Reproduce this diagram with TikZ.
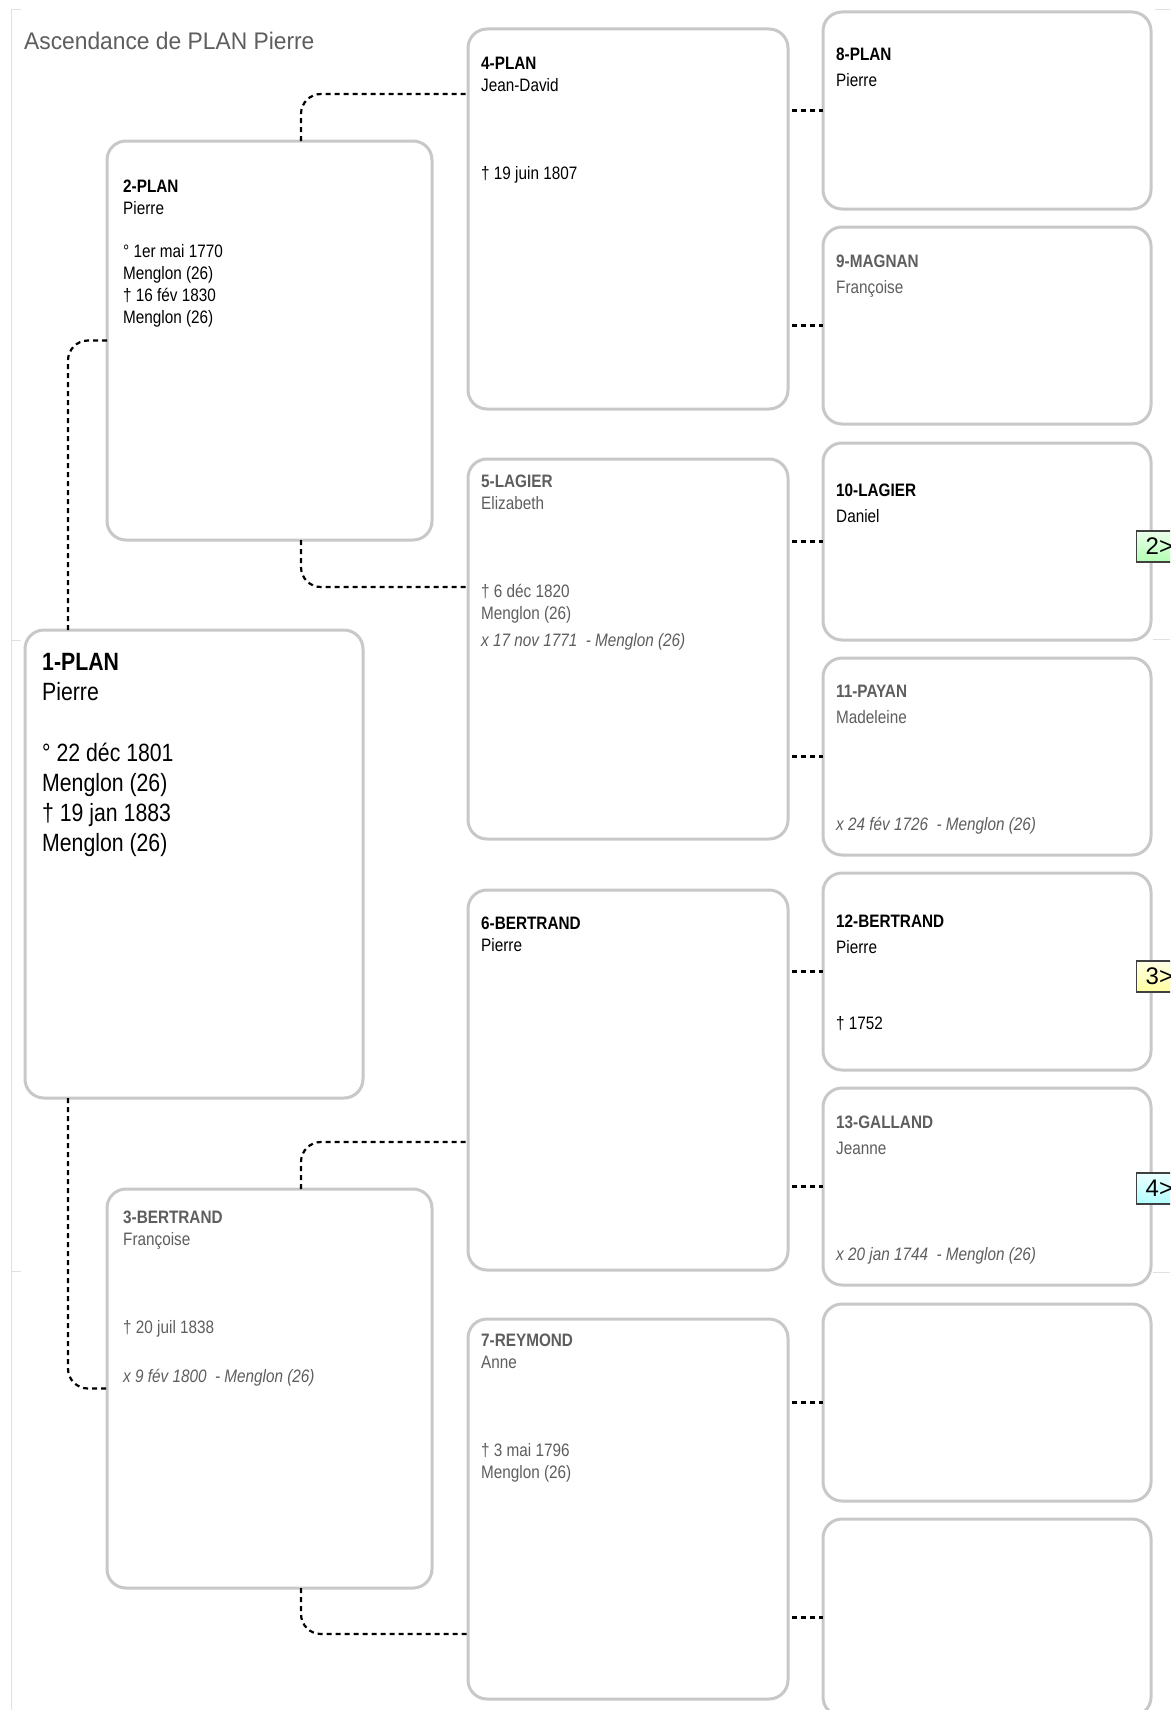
\documentclass[tikz,border=0pt]{standalone}
\usepackage{fontspec}
\setmainfont[FakeStretch=0.85]{Liberation Sans}
\newfontfamily\titrefont[FakeStretch=0.95]{Liberation Sans}
\newfontfamily\renvoifont{Liberation Sans}
\definecolor{cadre}{HTML}{C8C8C8}
\definecolor{gris}{HTML}{5E5E5E}
\definecolor{bordpage}{HTML}{E0E0E0}

\begin{document}
\begin{tikzpicture}[x=1pt,y=-1pt,
    fiche/.style={draw=cadre, line width=3pt, rounded corners=19pt, fill=white, anchor=north west, inner sep=0pt, outer sep=0pt},
    grande/.style={fiche, minimum width=338pt, minimum height=468pt},
    moyenne/.style={fiche, minimum width=325pt, minimum height=399pt},
    haute/.style={fiche, minimum width=320pt, minimum height=380pt},
    petite/.style={fiche, minimum width=328pt, minimum height=197pt},
    homme/.style={anchor=north west, inner sep=0pt, align=left, text=black, font=\fontsize{18}{22}\selectfont},
    femme/.style={homme, text=gris},
    serre/.style={font=\fontsize{18}{26}\selectfont},
    lien/.style={draw=black, line width=2.2pt, dash pattern=on 5pt off 4pt, rounded corners=20pt},
    court/.style={lien, dash phase=5pt},
    renvoi/.style={draw=black!75, line width=1.3pt, anchor=west, inner xsep=7pt, inner ysep=0pt, minimum height=31pt, font=\renvoifont\fontsize{24}{28}\selectfont}]
    \clip (0,0) rectangle (1170,1710);
    \fill[white] (0,0) rectangle (1170,1710);

    \draw[bordpage, line width=1pt] (21,10) -- (11,10) -- (11,1710);
    \draw[bordpage, line width=1pt] (11,640) -- (21,640);
    \draw[bordpage, line width=1pt] (11,1271) -- (21,1271);
    \draw[bordpage, line width=1pt] (1155,10) -- (1170,10);
    \draw[bordpage, line width=1pt] (1153,639) -- (1170,639);
    \draw[bordpage, line width=1pt] (1153,1272) -- (1170,1272);

    \node[anchor=base west, inner sep=0pt, text=gris, font=\titrefont\fontsize{24}{28}\selectfont] (titre) at (24,50) {Ascendance de PLAN Pierre};

    \node[grande] (b1) at (25,630) {};
    \node[moyenne] (b2) at (107,141) {};
    \node[moyenne] (b3) at (107,1189) {};
    \node[haute] (b4) at (468,29) {};
    \node[haute] (b5) at (468,459) {};
    \node[haute] (b6) at (468,890) {};
    \node[haute] (b7) at (468,1319) {};
    \node[petite] (b8) at (823,12) {};
    \node[petite] (b9) at (823,227) {};
    \node[petite] (b10) at (823,443) {};
    \node[petite] (b11) at (823,658) {};
    \node[petite] (b12) at (823,873) {};
    \node[petite] (b13) at (823,1088) {};
    \node[petite] (b14) at (823,1304) {};
    \node[petite] (b15) at (823,1519) {};

    \node[homme, font=\fontsize{25}{30}\selectfont] (t1) at ([xshift=17pt,yshift=-23pt]b1.north west)
        {\textbf{1-PLAN}\\Pierre\\[31pt]° 22 déc 1801\\Menglon (26)\\† 19 jan 1883\\Menglon (26)};
    \node[homme] (t2) at ([xshift=16pt,yshift=-39pt]b2.north west)
        {\textbf{2-PLAN}\\Pierre\\[21pt]° 1er mai 1770\\Menglon (26)\\† 16 fév 1830\\Menglon (26)};
    \node[femme] (t3) at ([xshift=16pt,yshift=-22pt]b3.north west)
        {\textbf{3-BERTRAND}\\Françoise\\[66pt]† 20 juil 1838\\[27pt]\textit{x 9 fév 1800 \ - Menglon (26)}};
    \node[homme] (t4) at ([xshift=13pt,yshift=-28pt]b4.north west)
        {\textbf{4-PLAN}\\Jean-David\\[66pt]† 19 juin 1807};
    \node[femme] (t5) at ([xshift=13pt,yshift=-16pt]b5.north west)
        {\textbf{5-LAGIER}\\Elizabeth\\[66pt]† 6 déc 1820\\Menglon (26)\\[5pt]\textit{x 17 nov 1771 \ - Menglon (26)}};
    \node[homme] (t6) at ([xshift=13pt,yshift=-27pt]b6.north west)
        {\textbf{6-BERTRAND}\\Pierre};
    \node[femme] (t7) at ([xshift=13pt,yshift=-15pt]b7.north west)
        {\textbf{7-REYMOND}\\Anne\\[66pt]† 3 mai 1796\\Menglon (26)};

    \node[homme, serre] (t8) at ([xshift=13pt,yshift=-36pt]b8.north west)
        {\textbf{8-PLAN}\\Pierre};
    \node[femme, serre] (t9) at ([xshift=13pt,yshift=-28pt]b9.north west)
        {\textbf{9-MAGNAN}\\Françoise};
    \node[homme, serre] (t10) at ([xshift=13pt,yshift=-41pt]b10.north west)
        {\textbf{10-LAGIER}\\Daniel};
    \node[femme, serre] (t11) at ([xshift=13pt,yshift=-27pt]b11.north west)
        {\textbf{11-PAYAN}\\Madeleine\\[81pt]\textit{x 24 fév 1726 \ - Menglon (26)}};
    \node[homme, serre] (t12) at ([xshift=13pt,yshift=-42pt]b12.north west)
        {\textbf{12-BERTRAND}\\Pierre\\[50pt]† 1752};
    \node[femme, serre] (t13) at ([xshift=13pt,yshift=-28pt]b13.north west)
        {\textbf{13-GALLAND}\\Jeanne\\[80pt]\textit{x 20 jan 1744 \ - Menglon (26)}};

    \draw[lien] ([xshift=43pt]b1.north west) |- (b2.west);
    \draw[lien] ([xshift=43pt]b1.south west) |- (b3.west);
    \draw[lien] ([xshift=194pt]b2.north west) |- ([yshift=-65pt]b4.north west);
    \draw[lien] ([xshift=194pt]b2.south west) |- ([yshift=-128pt]b5.north west);
    \draw[lien] ([xshift=194pt]b3.north west) |- ([yshift=-252pt]b6.north west);
    \draw[lien] ([xshift=194pt]b3.south west) |- ([yshift=-315pt]b7.north west);

    \draw[court] (b8.west -| b4.east) -- (b8.west);
    \draw[court] (b9.west -| b4.east) -- (b9.west);
    \draw[court] (b10.west -| b5.east) -- (b10.west);
    \draw[court] (b11.west -| b5.east) -- (b11.west);
    \draw[court] (b12.west -| b6.east) -- (b12.west);
    \draw[court] (b13.west -| b6.east) -- (b13.west);
    \draw[court] (b14.west -| b7.east) -- (b14.west);
    \draw[court] (b15.west -| b7.east) -- (b15.west);

    \node[renvoi, top color=green!8, bottom color=green!30] (r2) at ([xshift=-15pt,yshift=-5pt]b10.east) {\hspace{2pt}2>};
    \node[renvoi, top color=yellow!10, bottom color=yellow!38] (r3) at ([xshift=-15pt,yshift=-5pt]b12.east) {\hspace{2pt}3>};
    \node[renvoi, top color=cyan!8, bottom color=cyan!30] (r4) at ([xshift=-15pt,yshift=-2pt]b13.east) {\hspace{2pt}4>};
\end{tikzpicture}
\end{document}
